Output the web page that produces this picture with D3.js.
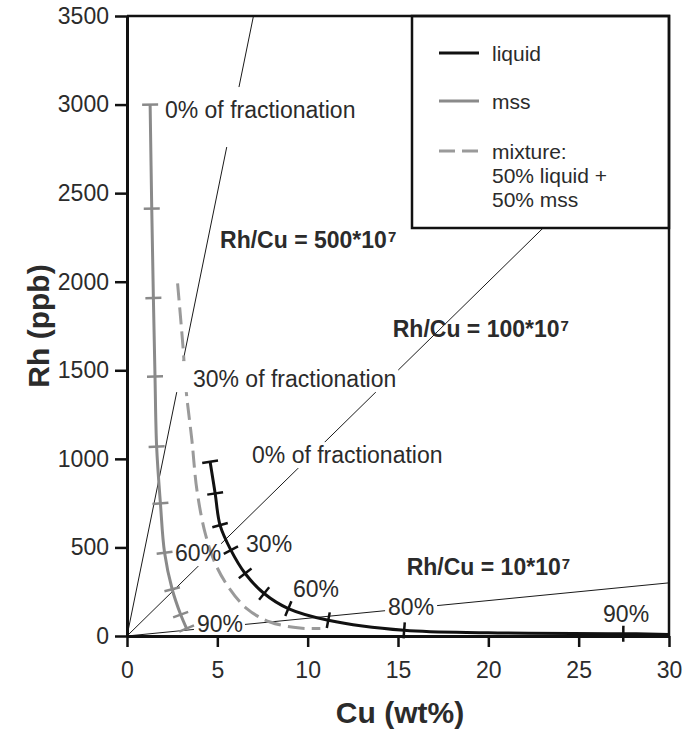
<!DOCTYPE html>
<html>
<head>
<meta charset="utf-8">
<script src="https://cdn.jsdelivr.net/npm/d3@7"></script>
<style>
  body { margin: 0; background: #fff; }
  text { font-family: "Liberation Sans", Arial, Helvetica, sans-serif; fill: #2b2b2b; }
</style>
</head>
<body>
<svg width="686" height="731"></svg>
<script>
// tick values
var cuTicks = [0, 5, 10, 15, 20, 25, 30];
var rhTicks = [0, 500, 1000, 1500, 2000, 2500, 3000, 3500];

// liquid curve (black), ticks at 0..90 % of fractionation, then tail
var liquidCu   = [4.60, 4.88, 5.15, 5.75, 6.54, 7.59, 8.93, 11.14, 15.34, 20.0, 27.47, 30.0];
var liquidRh   = [984, 805, 626, 485, 353, 240, 155, 89, 32, 18, 13, 9];
var liquidFrac = [0, 10, 20, 30, 40, 50, 60, 70, 80, null, 90, null];

// mss curve (grey)
var mssCu   = [1.28, 1.37, 1.46, 1.55, 1.64, 1.85, 2.08, 2.50, 2.97, 3.30];
var mssRh   = [3000, 2412, 1908, 1465, 1069, 749, 470, 264, 121, 42];
var mssFrac = [0, 10, 20, 30, 40, 50, 60, 70, 80, 90];

// mixture 50% liquid + 50% mss (dashed)
var mixCu = [2.80, 3.09, 3.28, 3.59, 3.87, 4.33, 4.88, 5.61, 6.63, 7.92, 9.57, 10.7];
var mixRh = [1990, 1645, 1380, 1107, 824, 579, 410, 277, 155, 79, 45, 42];

// Rh/Cu reference ratios (ppb per wt%)
var ratios = [500, 100, 10];
var ratioNames = ["500", "100", "10"];

var svg = d3.select("svg");

var x = d3.scaleLinear().domain([0, 30]).range([127, 669]);
var y = d3.scaleLinear().domain([0, 3500]).range([636, 16]);

svg.append("rect").attr("width", 686).attr("height", 731).attr("fill", "#fff");

svg.append("clipPath").attr("id", "plot")
    .append("rect")
    .attr("x", x(0)).attr("y", y(3500))
    .attr("width", x(30) - x(0)).attr("height", y(0) - y(3500));

// layers
var gRatio = svg.append("g").attr("clip-path", "url(#plot)");
var gBoxA = svg.append("g");
var gMix = svg.append("g");
var gBoxB = svg.append("g");
var gCurves = svg.append("g");
var gText = svg.append("g");

// ratio lines through origin
gRatio.selectAll("line").data(ratios).enter().append("line")
    .attr("x1", x(0)).attr("y1", y(0))
    .attr("x2", function(r) { return x(Math.min(30, 3500 / r)); })
    .attr("y2", function(r) { return y(r * Math.min(30, 3500 / r)); })
    .attr("stroke", "#1a1a1a")
    .attr("stroke-width", 1);

var line = d3.line()
    .x(function(d) { return x(d[0]); })
    .y(function(d) { return y(d[1]); })
    .curve(d3.curveCatmullRom.alpha(0.5));

function pts(a, b) { return a.map(function(v, i) { return [v, b[i]]; }); }

// mixture
gMix.append("path")
    .attr("d", line(pts(mixCu, mixRh)))
    .attr("fill", "none")
    .attr("stroke", "#9a9a9a")
    .attr("stroke-width", 3)
    .attr("stroke-dasharray", "17,7");

// curves with fractionation ticks
function curve(cu, rh, frac, color) {
    var p = pts(cu, rh);
    gCurves.append("path")
        .attr("d", line(p))
        .attr("fill", "none")
        .attr("stroke", color)
        .attr("stroke-width", 3);
    p.forEach(function(d, i) {
        if (frac[i] === null) return;
        var a = p[Math.max(0, i - 1)], b = p[Math.min(p.length - 1, i + 1)];
        var dx = x(b[0]) - x(a[0]), dy = y(b[1]) - y(a[1]);
        var len = Math.sqrt(dx * dx + dy * dy);
        var nx = -dy / len * 8, ny = dx / len * 8;
        gCurves.append("line")
            .attr("x1", x(d[0]) - nx).attr("y1", y(d[1]) - ny)
            .attr("x2", x(d[0]) + nx).attr("y2", y(d[1]) + ny)
            .attr("stroke", color)
            .attr("stroke-width", 2.5);
    });
}
curve(mssCu, mssRh, mssFrac, "#8a8a8a");
curve(liquidCu, liquidRh, liquidFrac, "#111");

// labels with white boxes that interrupt the lines
// pad: [top, right, bottom, left]
var labels = [
    { t: "0% of fractionation", cu: 2.10, rh: 2924, pad: [10, 2, 24, 2], cut: false },
    { t: "30% of fractionation", cu: 3.65, rh: 1405, pad: [5, 2, 0, 17], cut: true },
    { t: "0% of fractionation", cu: 6.92, rh: 976, pad: [0, 2, 0, 2], cut: false },
    { t: "30%", cu: 6.59, rh: 472, pad: [0, 1, 0, 1], cut: false },
    { t: "60%", cu: 2.66, rh: 423, pad: [0, 0, 0, 1], cut: false },
    { t: "60%", cu: 9.19, rh: 220, pad: [0, 1, 0, 1], cut: false },
    { t: "90%", cu: 3.87, rh: 23, pad: [0, 2, 0, 3], cut: false },
    { t: "80%", cu: 14.45, rh: 119, pad: [0, 3, 0, 3], cut: false },
    { t: "90%", cu: 26.35, rh: 80, pad: [0, 1, 0, 1], cut: false }
];

labels.forEach(function(d) {
    var t = gText.append("text")
        .attr("x", x(d.cu)).attr("y", y(d.rh))
        .style("font-size", "23px")
        .text(d.t);
    var bb = t.node().getBBox();
    (d.cut ? gBoxB : gBoxA).append("rect")
        .attr("x", bb.x - d.pad[3])
        .attr("y", bb.y - d.pad[0])
        .attr("width", bb.width + d.pad[1] + d.pad[3])
        .attr("height", bb.height + d.pad[0] + d.pad[2])
        .attr("fill", "#fff");
});

// ratio labels
var ratioPos = [[5.15, 2189], [14.71, 1689], [15.48, 344]];
ratios.forEach(function(r, i) {
    var t = gText.append("text")
        .attr("x", x(ratioPos[i][0])).attr("y", y(ratioPos[i][1]))
        .style("font-size", "23px")
        .style("font-weight", "bold")
        .text("Rh/Cu = " + ratioNames[i] + "*10");
    t.append("tspan")
        .attr("dx", 1)
        .attr("dy", -6)
        .style("font-size", "15px")
        .text("7");
});

// legend
var lg = svg.append("g");
lg.append("rect")
    .attr("x", 412).attr("y", y(3500))
    .attr("width", x(30) - 412).attr("height", 212)
    .attr("fill", "#fff")
    .attr("stroke", "#111")
    .attr("stroke-width", 2.5);
var legendItems = [
    { lines: ["liquid"], color: "#111", dash: null },
    { lines: ["mss"], color: "#8a8a8a", dash: null },
    { lines: ["mixture:", "50% liquid +", "50% mss"], color: "#9a9a9a", dash: "16,7" }
];
var legendY = [53, 101, 151];
legendItems.forEach(function(d, i) {
    lg.append("line")
        .attr("x1", 439).attr("x2", 479)
        .attr("y1", legendY[i]).attr("y2", legendY[i])
        .attr("stroke", d.color)
        .attr("stroke-width", 3)
        .attr("stroke-dasharray", d.dash);
    d.lines.forEach(function(s, j) {
        lg.append("text")
            .attr("x", 492).attr("y", legendY[i] + 7.5 + j * 24)
            .style("font-size", "21px")
            .text(s);
    });
});

// axes
var xAxis = svg.append("g")
    .attr("transform", "translate(0," + y(0) + ")")
    .call(d3.axisBottom(x).tickValues(cuTicks).tickSize(11).tickPadding(15).tickSizeOuter(0));
var yAxis = svg.append("g")
    .attr("transform", "translate(" + x(0) + ",0)")
    .call(d3.axisLeft(y).tickValues(rhTicks).tickFormat(d3.format("d"))
        .tickSize(12).tickPadding(6).tickSizeOuter(0));
[xAxis, yAxis].forEach(function(g) {
    g.select(".domain").attr("stroke", "#111").attr("stroke-width", 3);
    g.selectAll(".tick line").attr("stroke", "#111").attr("stroke-width", 2.5);
    g.selectAll(".tick text")
        .style("font-size", "23px")
        .style("font-family", "'Liberation Sans', Arial, sans-serif")
        .attr("fill", "#2b2b2b");
});

// frame top and right
svg.append("path")
    .attr("d", "M" + x(0) + "," + y(3500) + "H" + x(30) + "V" + y(0))
    .attr("fill", "none")
    .attr("stroke", "#111")
    .attr("stroke-width", 2.5);

// axis titles
svg.append("text")
    .attr("x", 400).attr("y", 723)
    .attr("text-anchor", "middle")
    .style("font-size", "30px")
    .style("font-weight", "bold")
    .text("Cu (wt%)");

svg.append("text")
    .attr("transform", "translate(49,326)rotate(-90)")
    .attr("text-anchor", "middle")
    .style("font-size", "30px")
    .style("font-weight", "bold")
    .text("Rh (ppb)");
</script>
</body>
</html>
